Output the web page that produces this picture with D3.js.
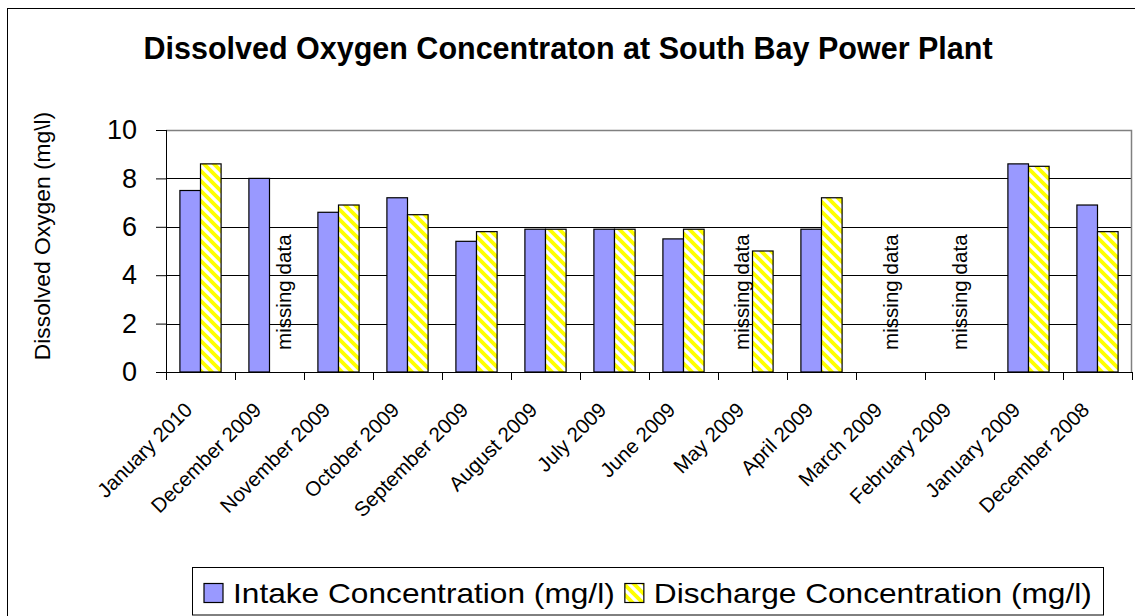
<!DOCTYPE html>
<html>
<head>
<meta charset="utf-8">
<script src="https://cdn.jsdelivr.net/npm/d3@7"></script>
<style>
  html, body { margin: 0; padding: 0; background: #fff; }
  svg { display: block; font-family: "Liberation Sans", Arial, sans-serif; }
</style>
</head>
<body>
<svg id="chart" width="1135" height="616"></svg>
<script>
// ---- data ----
const categories = ["January 2010", "December 2009", "November 2009", "October 2009",
  "September 2009", "August 2009", "July 2009", "June 2009", "May 2009", "April 2009",
  "March 2009", "February 2009", "January 2009", "December 2008"];
const seriesNames = ["Intake Concentration (mg/l)", "Discharge Concentration (mg/l)"];
const intake    = [7.5, 8.0, 6.6, 7.2, 5.4, 5.9, 5.9, 5.5, null, 5.9, null, null, 8.6, 6.9];
const discharge = [8.6, null, 6.9, 6.5, 5.8, 5.9, 5.9, 5.9, 5.0, 7.2, null, null, 8.5, 5.8];
const yTicks = [0, 2, 4, 6, 8, 10];
const titleText = "Dissolved Oxygen Concentraton at South Bay Power Plant";
const yTitleText = "Dissolved Oxygen (mg\\l)";
const missingText = "missing data";

// ---- layout ----
const W = 1135, H = 616;
const plot = { left: 166, right: 1132, top: 130, bottom: 372 };
const svg = d3.select("#chart");

const defs = svg.append("defs");
const pat = defs.append("pattern").attr("id", "hatch")
  .attr("patternUnits", "userSpaceOnUse").attr("width", 10).attr("height", 10);
pat.append("rect").attr("width", 10).attr("height", 10).attr("fill", "#fff");
pat.append("path").attr("d", "M-3,-3 L13,13 M-3,7 L3,13 M7,-3 L13,3")
  .attr("stroke", "#ffff00").attr("stroke-width", 3.8);

// outer chart border
svg.append("rect").attr("x", 7.5).attr("y", 8.5).attr("width", 1200).attr("height", 700)
  .attr("fill", "none").attr("stroke", "#000").attr("stroke-width", 1);

const x = d3.scaleBand().domain(categories).range([plot.left, plot.right]).padding(0);
const y = d3.scaleLinear().domain([0, 10]).range([plot.bottom, plot.top]);
const groupFrac = 0.597;
const bw = x.bandwidth();
const barW = bw * groupFrac / 2;
const series = [intake, discharge];
const fills = ["#9999ff", "url(#hatch)"];

// gridlines
svg.append("g").selectAll("line").data(yTicks.filter(t => t > 0 && t < 10)).join("line")
  .attr("x1", plot.left).attr("x2", plot.right)
  .attr("y1", d => Math.round(y(d)) + 0.5).attr("y2", d => Math.round(y(d)) + 0.5)
  .attr("stroke", "#000").attr("stroke-width", 1);
// plot area border (top/right gray)
svg.append("path")
  .attr("d", `M${plot.left},${Math.round(y(10)) + 0.5} H${plot.right - 0.5} V${plot.bottom}`)
  .attr("fill", "none").attr("stroke", "#808080").attr("stroke-width", 1.5);

// bars
series.forEach((vals, si) => {
  svg.append("g").selectAll("rect")
    .data(categories.map((c, i) => ({ c, v: vals[i] })).filter(d => d.v != null))
    .join("rect")
    .attr("x", d => x(d.c) + (bw - 2 * barW) / 2 + si * barW)
    .attr("y", d => y(d.v))
    .attr("width", barW)
    .attr("height", d => y(0) - y(d.v))
    .attr("fill", fills[si])
    .attr("stroke", "#000").attr("stroke-width", 1.2);
});

// missing data labels
categories.forEach((c, i) => {
  const mi = intake[i] == null, md = discharge[i] == null;
  if (!mi && !md) return;
  let cx;
  if (mi && md) cx = x(c) + bw / 2;
  else cx = x(c) + (bw - 2 * barW) / 2 + (mi ? 0 : 1) * barW + barW / 2 + (mi ? 0 : 4);
  svg.append("text")
    .attr("transform", `translate(${cx},${y(0) - 22}) rotate(-90)`)
    .attr("dy", "0.35em")
    .attr("font-size", 20.6).attr("fill", "#000")
    .text(missingText);
});

// y axis
const yAxis = svg.append("g").attr("transform", `translate(${plot.left},0)`)
  .call(d3.axisLeft(y).tickValues(yTicks).tickSize(10).tickPadding(19).tickFormat(d3.format("d")));
yAxis.select(".domain").attr("stroke", "#000").attr("d", `M0.5,${plot.top}V${plot.bottom}`);
yAxis.selectAll(".tick line").attr("stroke", "#000");
yAxis.selectAll(".tick text").attr("font-size", 27).attr("fill", "#000")
  .attr("font-family", "Liberation Sans, Arial, sans-serif");

// x axis
const xg = svg.append("g").attr("transform", `translate(0,${plot.bottom})`);
xg.append("line").attr("x1", plot.left).attr("x2", plot.right).attr("y1", 0.5).attr("y2", 0.5)
  .attr("stroke", "#000");
xg.selectAll("line.tk").data(d3.range(categories.length + 1)).join("line").attr("class", "tk")
  .attr("x1", i => Math.round(plot.left + i * bw) + 0.5).attr("x2", i => Math.round(plot.left + i * bw) + 0.5)
  .attr("y1", 0).attr("y2", 8).attr("stroke", "#000");
xg.selectAll("text").data(categories).join("text")
  .attr("transform", d => `translate(${x(d) + bw / 2 - 12},${34}) rotate(-45)`)
  .attr("text-anchor", "end").attr("dy", "0.35em")
  .attr("font-size", 20.5).attr("fill", "#000")
  .text(d => d);

// title
svg.append("text").attr("x", 568).attr("y", 59).attr("text-anchor", "middle")
  .attr("font-size", 30.5).attr("font-weight", "bold").attr("fill", "#000").text(titleText);

// y title
svg.append("text").attr("transform", `translate(42,236) rotate(-90)`)
  .attr("text-anchor", "middle").attr("dy", "0.35em")
  .attr("font-size", 22.8).attr("fill", "#000").text(yTitleText);

// legend
const lg = svg.append("g");
lg.append("rect").attr("x", 192.5).attr("y", 567.5).attr("width", 911).attr("height", 47.5)
  .attr("fill", "#fff").attr("stroke", "#000").attr("stroke-width", 1);
const legFont = 28, legStart = 233, legEnd = 1092, swGap = 10, sw = 19;
const tmp = seriesNames.map(n => {
  const t = lg.append("text").attr("font-size", legFont).text(n);
  const w = t.node().getComputedTextLength(); t.remove(); return w;
});
const sx = (legEnd - legStart - (swGap + sw + swGap)) / d3.sum(tmp);
let lx = legStart;
seriesNames.forEach((n, i) => {
  lg.append("rect").attr("x", lx - swGap - sw).attr("y", 583.5).attr("width", sw).attr("height", sw)
    .attr("fill", fills[i]).attr("stroke", "#000").attr("stroke-width", 1.2);
  lg.append("text").attr("transform", `translate(${lx},603) scale(${sx},1)`)
    .attr("font-size", legFont).attr("fill", "#000").text(n);
  lx = lx + tmp[i] * sx + swGap + sw + swGap;
});
</script>
</body>
</html>
